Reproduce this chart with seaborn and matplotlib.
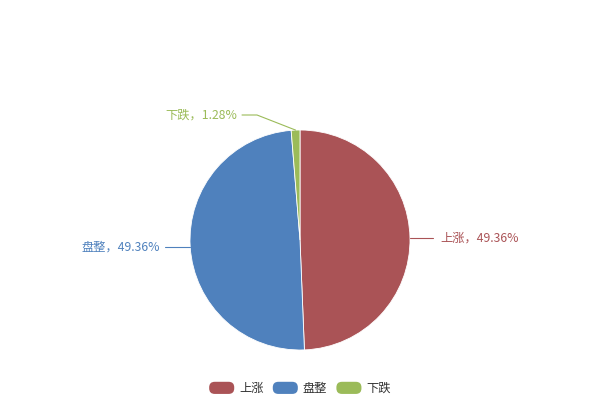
import numpy as np
import matplotlib
matplotlib.use("Agg")
import matplotlib.pyplot as plt
import seaborn as sns
from matplotlib.patches import FancyBboxPatch, Wedge
from matplotlib.legend_handler import HandlerPatch

labels = ["上涨", "盘整", "下跌"]
values = [49.36, 49.36, 1.28]
colors = ["#AA5356", "#4F81BD", "#9BBB59"]

sns.set_style("white")
plt.rcParams['font.family'] = ['Noto Sans CJK SC', 'DejaVu Sans']

fig = plt.figure(figsize=(6, 4), dpi=100)
ax = fig.add_axes([0, 0, 1, 1])

# pie centred at pixel (300, 240); y axis is flipped, so start at -90 and go ccw
cx, cy, r = 300, 240, 110
wedges, _ = ax.pie(values, colors=colors, startangle=-90, counterclock=True,
                   center=(cx, cy), radius=r,
                   wedgeprops=dict(edgecolor="white", linewidth=0.6))
ax.set_xlim(0, 600)
ax.set_ylim(400, 0)
ax.set_aspect("equal")
ax.axis("off")

# label placement: (elbow x, elbow y, text x, ha) in pixel coords
label_pos = [
    (433, None, 440, "left"),
    (165, None, 160, "right"),
    (257, 115, 237, "right"),
]
for w, lab, val, col, (ex, ey, tx, ha) in zip(wedges, labels, values, colors, label_pos):
    ang = np.deg2rad((w.theta1 + w.theta2) / 2)
    px = cx + r * np.cos(ang)
    py = cy + r * np.sin(ang)
    if ey is None:
        ey = py
        xs, ys = [px, ex], [py, ey]
    else:
        xs, ys = [px, ex, tx + 5], [py, ey, ey]
    ax.plot(xs, ys, color=col, lw=0.8)
    ax.text(tx, ey, f"{lab}，{val:.2f}%", color=col, fontsize=8.8,
            ha=ha, va="center")


class RoundHandler(HandlerPatch):
    def create_artists(self, legend, orig_handle, xdescent, ydescent,
                       width, height, fontsize, trans):
        p = FancyBboxPatch((-xdescent + 2, -ydescent + 2), width - 4, height - 4,
                           boxstyle="round,pad=2,rounding_size=4",
                           facecolor=orig_handle.get_facecolor(),
                           edgecolor="none", transform=trans)
        return [p]


leg = ax.legend(wedges, labels, loc="lower center", bbox_to_anchor=(0.5, -0.015),
                ncol=3, frameon=False, fontsize=8.8, handlelength=2.05,
                handleheight=1.15, handletextpad=0.4, columnspacing=0.75,
                handler_map={Wedge: RoundHandler()})
for t in leg.get_texts():
    t.set_color("#333333")

fig.savefig("out.png", dpi=100)
